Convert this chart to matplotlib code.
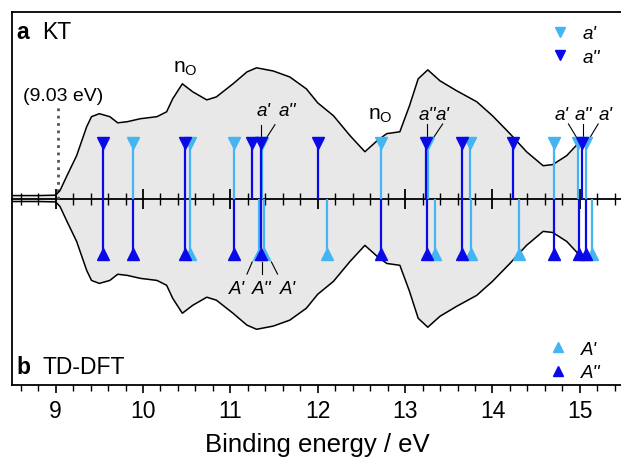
import numpy as np
import matplotlib
matplotlib.use("Agg")
import matplotlib.pyplot as plt
from matplotlib.lines import Line2D
from matplotlib.ticker import MultipleLocator

plt.rcParams['font.family'] = ['Liberation Sans', 'DejaVu Sans']
plt.rcParams['mathtext.fontset'] = 'custom'
plt.rcParams['mathtext.rm'] = 'Liberation Sans'
plt.rcParams['mathtext.it'] = 'Liberation Sans:italic'

# photoelectron spectrum (normalised)
energy = [8.5, 8.8, 9.0, 9.05, 9.13, 9.24, 9.355, 9.41, 9.5, 9.62, 9.71, 9.82,
          9.97, 10.16, 10.27, 10.34, 10.45, 10.57, 10.73, 10.84, 11.03, 11.19,
          11.3, 11.49, 11.68, 11.87, 12.0, 12.18, 12.37, 12.54, 12.68, 12.79,
          12.94, 13.05, 13.15, 13.26, 13.4, 13.59, 13.82, 14.0, 14.2, 14.39,
          14.58, 14.69, 14.85, 14.99]
signal = [0.016, 0.016, 0.018, 0.043, 0.123, 0.230, 0.385, 0.439, 0.455, 0.439,
          0.406, 0.412, 0.428, 0.439, 0.465, 0.535, 0.615, 0.572, 0.529, 0.545,
          0.615, 0.679, 0.701, 0.684, 0.652, 0.588, 0.513, 0.444, 0.337, 0.251,
          0.310, 0.348, 0.358, 0.497, 0.642, 0.690, 0.631, 0.578, 0.519, 0.444,
          0.348, 0.251, 0.176, 0.182, 0.230, 0.300]

# KT states (top) and TD-DFT states (bottom), eV
kt_a1 = [9.885, 10.535, 11.04, 11.36, 12.72, 13.26, 13.74, 14.70, 14.98, 15.07]
kt_a2 = [9.54, 10.486, 11.25, 11.35, 12.0, 13.245, 13.655, 14.24, 15.03]
td_a1 = [10.535, 11.33, 11.38, 12.11, 13.34, 13.75, 14.30, 15.135]
td_a2 = [9.54, 9.885, 10.486, 11.04, 11.355, 12.72, 13.255, 13.655, 14.70,
         14.99, 15.07]
stick_h = 0.30
onset = 9.03

light = '#45b4f2'
dark = '#0a0ae6'

fig = plt.figure(figsize=(6.21, 4.64), dpi=100)
ax = fig.add_axes([0.0193, 0.168, 0.9847, 0.8039])

e = np.array(energy)
s = np.array(signal)
ax.fill_between(e, -s, s, color='#e8e8e8', lw=0, zorder=0)
ax.plot(e, s, color='black', lw=1.1, zorder=2)
ax.plot(e, -s, color='black', lw=1.1, zorder=2)


def sticks(x, sign, color, marker):
    ax.vlines(x, 0, sign * stick_h, color=color, lw=1.6, zorder=3)
    ax.plot(x, [sign * stick_h] * len(x), ls='none', marker=marker,
            color=color, ms=8, zorder=4)


sticks(kt_a1, 1, light, 'v')
sticks(kt_a2, 1, dark, 'v')
sticks(td_a1, -1, light, '^')
sticks(td_a2, -1, dark, '^')

# onset marker
ax.vlines(onset, 0, 0.49, color='#555555', ls=':', lw=2, zorder=1)
ax.text(9.08, 0.55, '(9.03 eV)', ha='center', va='center', fontsize=14)

# nO bands
ax.text(10.48, 0.70, r'n$_\mathrm{O}$', ha='center', va='center', fontsize=15)
ax.text(12.72, 0.45, r'n$_\mathrm{O}$', ha='center', va='center', fontsize=15)

# symmetry labels with pointer lines
labels = [
    ("a'", 11.38, 0.47, [(11.35, 0.396, 11.35, 0.33)]),
    ("a''", 11.65, 0.47, [(11.51, 0.396, 11.42, 0.33)]),
    ("a''", 13.25, 0.45, [(13.25, 0.40, 13.25, 0.33)]),
    ("a'", 13.43, 0.45, [(13.43, 0.40, 13.33, 0.33)]),
    ("a'", 14.79, 0.45, [(14.87, 0.40, 14.96, 0.33)]),
    ("a''", 15.04, 0.45, [(15.04, 0.40, 15.04, 0.33)]),
    ("a'", 15.29, 0.45, [(15.21, 0.40, 15.12, 0.33)]),
    ("A'", 11.07, -0.48, [(11.19, -0.405, 11.25, -0.34)]),
    ("A''", 11.36, -0.48, [(11.36, -0.405, 11.36, -0.34)]),
    ("A'", 11.66, -0.48, [(11.54, -0.405, 11.47, -0.34)]),
]
for txt, x, y, segs in labels:
    ax.text(x, y, txt, ha='center', va='center', style='italic', fontsize=13.5)
    for x0, y0, x1, y1 in segs:
        ax.plot([x0, x1], [y0, y1], color='black', lw=0.8)

# panel titles
ax.text(0.007, 0.9465, 'a', transform=ax.transAxes, fontsize=16.5,
        fontweight='bold', va='center')
ax.text(0.05, 0.9465, 'KT', transform=ax.transAxes, fontsize=16.5,
        va='center')
ax.text(0.007, 0.051, 'b', transform=ax.transAxes, fontsize=16.5,
        fontweight='bold', va='center')
ax.text(0.05, 0.051, 'TD-DFT', transform=ax.transAxes,
        fontsize=16.5, va='center')

# legends
h_top = [Line2D([], [], ls='none', marker='v', color=light, ms=7, label="a'"),
         Line2D([], [], ls='none', marker='v', color=dark, ms=7, label="a''")]
h_bot = [Line2D([], [], ls='none', marker='^', color=light, ms=7, label="A'"),
         Line2D([], [], ls='none', marker='^', color=dark, ms=7, label="A''")]
leg1 = ax.legend(handles=h_top, loc='upper right', bbox_to_anchor=(0.99, 1.01),
                 frameon=False, prop={'style': 'italic', 'size': 13.5},
                 handlelength=1.2, handletextpad=0.6, labelspacing=0.35)
ax.add_artist(leg1)
ax.legend(handles=h_bot, loc='lower right', bbox_to_anchor=(0.99, -0.035),
          frameon=False, prop={'style': 'italic', 'size': 13.5},
          handlelength=1.2, handletextpad=0.6, labelspacing=0.35)

ax.set_xlim(8.5, 15.5)
ax.set_ylim(-1, 1)
ax.set_yticks([])
ax.xaxis.set_major_locator(MultipleLocator(1))
ax.xaxis.set_minor_locator(MultipleLocator(0.2))
ax.tick_params(axis='x', which='major', length=6, width=1.2, labelsize=16.5,
               pad=4)
ax.tick_params(axis='x', which='minor', length=4, width=1.0)
ax.set_xlabel('Binding energy / eV', fontsize=18.5, labelpad=7)
for sp in ax.spines.values():
    sp.set_linewidth(1.3)

# zero line with ticks through it
mid = ax.secondary_xaxis(0.5)
mid.xaxis.set_major_locator(MultipleLocator(1))
mid.xaxis.set_minor_locator(MultipleLocator(0.2))
mid.tick_params(which='major', direction='inout', length=14, width=1.3,
                labeltop=False, labelbottom=False)
mid.tick_params(which='minor', direction='inout', length=8, width=1.0)
mid.spines['bottom'].set_linewidth(1.3)
mid.spines['top'].set_linewidth(1.3)

fig.savefig('out.png', dpi=100)
